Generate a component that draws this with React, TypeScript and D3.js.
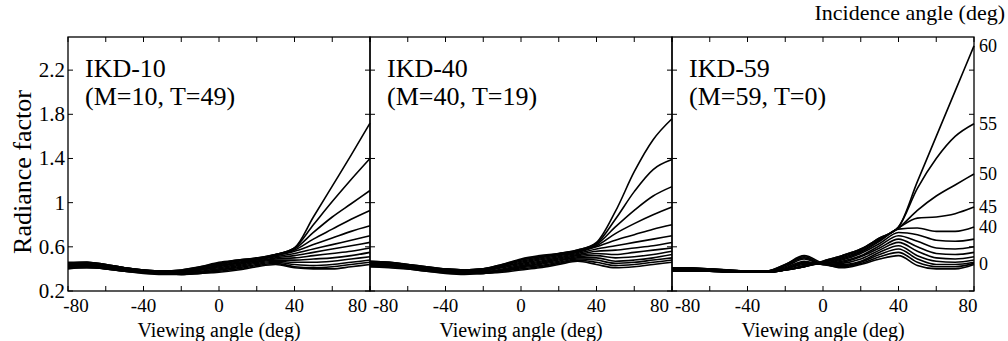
import React from "react";
import * as d3 from "d3";

// viewing angles (deg) sampled along each curve
const viewingAngles = [-80, -70, -60, -50, -40, -30, -20, -10, 0, 10, 20, 30, 40, 50, 60, 70, 80];
// incidence angles (deg), one curve each, listed from 60 down to 0
const incidenceAngles = [60, 55, 50, 45, 40, 35, 30, 25, 20, 15, 10, 5, 0];

const yTicks = [0.2, 0.6, 1, 1.4, 1.8, 2.2];
const xTicks = [-80, -60, -40, -20, 0, 20, 40, 60, 80];
const xTickLabels = [-80, -40, 0, 40, 80];
const labelledIncidence = [60, 55, 50, 45, 40, 0];

const ikd10 = [
  [0.45, 0.46, 0.44, 0.41, 0.39, 0.38, 0.39, 0.42, 0.46, 0.48, 0.50, 0.53, 0.59, 0.87, 1.15, 1.43, 1.72],
  [0.45, 0.46, 0.44, 0.41, 0.39, 0.38, 0.39, 0.42, 0.45, 0.48, 0.50, 0.53, 0.59, 0.80, 1.01, 1.21, 1.40],
  [0.46, 0.46, 0.44, 0.41, 0.39, 0.38, 0.38, 0.41, 0.45, 0.47, 0.49, 0.53, 0.58, 0.73, 0.87, 0.99, 1.11],
  [0.45, 0.45, 0.43, 0.41, 0.39, 0.38, 0.38, 0.41, 0.44, 0.47, 0.49, 0.52, 0.57, 0.67, 0.76, 0.85, 0.93],
  [0.44, 0.45, 0.43, 0.40, 0.38, 0.37, 0.38, 0.40, 0.43, 0.46, 0.48, 0.52, 0.56, 0.62, 0.68, 0.74, 0.79],
  [0.44, 0.44, 0.42, 0.40, 0.38, 0.37, 0.37, 0.40, 0.43, 0.45, 0.48, 0.51, 0.54, 0.58, 0.62, 0.66, 0.70],
  [0.43, 0.44, 0.42, 0.40, 0.38, 0.37, 0.37, 0.39, 0.42, 0.45, 0.47, 0.50, 0.52, 0.55, 0.58, 0.61, 0.64],
  [0.43, 0.43, 0.41, 0.39, 0.38, 0.37, 0.37, 0.39, 0.41, 0.44, 0.47, 0.49, 0.50, 0.52, 0.54, 0.56, 0.59],
  [0.42, 0.43, 0.41, 0.39, 0.37, 0.36, 0.36, 0.38, 0.40, 0.43, 0.46, 0.48, 0.48, 0.49, 0.50, 0.52, 0.55],
  [0.42, 0.42, 0.41, 0.39, 0.37, 0.36, 0.36, 0.37, 0.39, 0.42, 0.45, 0.47, 0.46, 0.46, 0.47, 0.49, 0.51],
  [0.41, 0.42, 0.40, 0.38, 0.37, 0.36, 0.35, 0.37, 0.39, 0.41, 0.44, 0.46, 0.44, 0.43, 0.44, 0.46, 0.48],
  [0.41, 0.41, 0.40, 0.38, 0.37, 0.36, 0.35, 0.36, 0.38, 0.40, 0.43, 0.45, 0.42, 0.41, 0.42, 0.44, 0.46],
  [0.40, 0.41, 0.40, 0.38, 0.36, 0.35, 0.35, 0.36, 0.37, 0.39, 0.42, 0.44, 0.41, 0.40, 0.40, 0.42, 0.44],
];

const ikd40 = [
  [0.47, 0.46, 0.44, 0.42, 0.40, 0.39, 0.40, 0.44, 0.49, 0.52, 0.54, 0.57, 0.64, 0.92, 1.28, 1.57, 1.76],
  [0.47, 0.46, 0.44, 0.42, 0.40, 0.39, 0.40, 0.44, 0.48, 0.51, 0.54, 0.57, 0.63, 0.85, 1.10, 1.30, 1.39],
  [0.46, 0.46, 0.44, 0.41, 0.40, 0.39, 0.40, 0.43, 0.48, 0.51, 0.53, 0.56, 0.62, 0.78, 0.93, 1.06, 1.145],
  [0.46, 0.45, 0.43, 0.41, 0.39, 0.38, 0.39, 0.43, 0.47, 0.50, 0.53, 0.56, 0.61, 0.72, 0.81, 0.89, 0.96],
  [0.46, 0.45, 0.43, 0.41, 0.39, 0.38, 0.39, 0.42, 0.46, 0.49, 0.52, 0.55, 0.60, 0.66, 0.71, 0.76, 0.80],
  [0.45, 0.45, 0.43, 0.40, 0.39, 0.38, 0.38, 0.42, 0.45, 0.48, 0.51, 0.54, 0.58, 0.61, 0.64, 0.67, 0.70],
  [0.45, 0.44, 0.42, 0.40, 0.38, 0.37, 0.38, 0.41, 0.44, 0.47, 0.50, 0.53, 0.56, 0.57, 0.59, 0.61, 0.64],
  [0.44, 0.44, 0.42, 0.40, 0.38, 0.37, 0.37, 0.40, 0.43, 0.46, 0.49, 0.52, 0.54, 0.53, 0.55, 0.57, 0.59],
  [0.44, 0.43, 0.42, 0.39, 0.38, 0.37, 0.37, 0.39, 0.42, 0.45, 0.48, 0.51, 0.52, 0.50, 0.51, 0.53, 0.56],
  [0.43, 0.43, 0.41, 0.39, 0.37, 0.36, 0.37, 0.39, 0.42, 0.44, 0.47, 0.50, 0.50, 0.47, 0.48, 0.50, 0.53],
  [0.43, 0.42, 0.41, 0.39, 0.37, 0.36, 0.36, 0.38, 0.41, 0.43, 0.46, 0.49, 0.48, 0.45, 0.46, 0.48, 0.50],
  [0.42, 0.42, 0.40, 0.38, 0.37, 0.36, 0.36, 0.38, 0.40, 0.42, 0.45, 0.48, 0.46, 0.43, 0.44, 0.46, 0.48],
  [0.42, 0.41, 0.40, 0.38, 0.36, 0.35, 0.36, 0.37, 0.39, 0.41, 0.44, 0.47, 0.44, 0.41, 0.42, 0.44, 0.46],
];

const ikd59 = [
  [0.38, 0.38, 0.38, 0.37, 0.37, 0.37, 0.39, 0.42, 0.47, 0.52, 0.58, 0.68, 0.78, 1.19, 1.60, 2.01, 2.42],
  [0.38, 0.38, 0.38, 0.37, 0.37, 0.37, 0.39, 0.42, 0.47, 0.52, 0.58, 0.68, 0.78, 1.13, 1.40, 1.60, 1.715],
  [0.39, 0.38, 0.38, 0.37, 0.37, 0.37, 0.39, 0.42, 0.46, 0.51, 0.57, 0.67, 0.77, 0.93, 1.06, 1.16, 1.26],
  [0.39, 0.39, 0.38, 0.38, 0.37, 0.37, 0.39, 0.42, 0.46, 0.50, 0.56, 0.66, 0.77, 0.86, 0.87, 0.90, 0.96],
  [0.39, 0.39, 0.38, 0.38, 0.37, 0.37, 0.39, 0.43, 0.45, 0.49, 0.55, 0.65, 0.76, 0.77, 0.74, 0.74, 0.78],
  [0.40, 0.39, 0.39, 0.38, 0.38, 0.37, 0.40, 0.44, 0.45, 0.48, 0.54, 0.63, 0.73, 0.71, 0.66, 0.65, 0.67],
  [0.40, 0.39, 0.39, 0.38, 0.38, 0.37, 0.40, 0.45, 0.45, 0.47, 0.52, 0.61, 0.70, 0.65, 0.59, 0.58, 0.60],
  [0.40, 0.40, 0.39, 0.38, 0.38, 0.37, 0.40, 0.46, 0.45, 0.46, 0.51, 0.59, 0.67, 0.60, 0.54, 0.53, 0.55],
  [0.40, 0.40, 0.39, 0.38, 0.38, 0.38, 0.41, 0.47, 0.44, 0.45, 0.49, 0.57, 0.64, 0.56, 0.50, 0.49, 0.51],
  [0.41, 0.40, 0.39, 0.39, 0.38, 0.38, 0.42, 0.49, 0.44, 0.44, 0.47, 0.55, 0.61, 0.52, 0.47, 0.46, 0.48],
  [0.41, 0.40, 0.40, 0.39, 0.38, 0.38, 0.43, 0.50, 0.44, 0.43, 0.46, 0.53, 0.58, 0.49, 0.44, 0.44, 0.46],
  [0.41, 0.41, 0.40, 0.39, 0.38, 0.38, 0.44, 0.51, 0.44, 0.42, 0.45, 0.51, 0.55, 0.46, 0.42, 0.42, 0.45],
  [0.41, 0.41, 0.40, 0.39, 0.38, 0.38, 0.44, 0.52, 0.45, 0.41, 0.44, 0.49, 0.52, 0.43, 0.40, 0.40, 0.44],
];

const panels = [
  { name: "IKD-10", params: "(M=10, T=49)", curves: ikd10 },
  { name: "IKD-40", params: "(M=40, T=19)", curves: ikd40 },
  { name: "IKD-59", params: "(M=59, T=0)", curves: ikd59 },
];

const W = 1008;
const H = 341;
const left = 68;
const panelW = 302;
const top = 37;
const bottom = 291;
const font = "'Liberation Serif', 'DejaVu Serif', serif";

const y = d3.scaleLinear().domain([0.2, 2.5]).range([bottom, top]);

function Panel({ p, i }) {
  const x0 = left + i * panelW;
  const x = d3.scaleLinear().domain([-80, 80]).range([x0, x0 + panelW]);
  const line = d3
    .line<number>()
    .x((_, j) => x(viewingAngles[j]))
    .y((d) => y(d))
    .curve(d3.curveMonotoneX);
  const tick = 5;

  return (
    <g>
      {p.curves.map((c, k) => (
        <path key={k} d={line(c) || ""} fill="none" stroke="#000" strokeWidth={1.6} />
      ))}
      <rect x={x0} y={top} width={panelW} height={bottom - top} fill="none" stroke="#000" strokeWidth={1.3} />
      {xTicks.map((t) => (
        <g key={t} stroke="#000" strokeWidth={1}>
          <line x1={x(t)} x2={x(t)} y1={bottom} y2={bottom - tick} />
          <line x1={x(t)} x2={x(t)} y1={top} y2={top + tick} />
        </g>
      ))}
      {yTicks.map((t) => (
        <g key={t} stroke="#000" strokeWidth={1}>
          <line x1={x0} x2={x0 + tick} y1={y(t)} y2={y(t)} />
          <line x1={x0 + panelW} x2={x0 + panelW - tick} y1={y(t)} y2={y(t)} />
        </g>
      ))}
      {xTickLabels.map((t) => {
        let cx = x(t);
        let anchor = "middle";
        if (t === -80) {
          cx = i === 0 ? x(t) + 8 : x(t) + 3;
          anchor = i === 0 ? "middle" : "start";
        }
        if (t === 80) {
          cx = i === 2 ? x(t) - 6 : x(t) - 3;
          anchor = i === 2 ? "middle" : "end";
        }
        return (
          <text key={t} x={cx} y={bottom + 21} textAnchor={anchor} fontSize={19} fontFamily={font}>
            {t}
          </text>
        );
      })}
      <text x={x(0)} y={bottom + 46} textAnchor="middle" fontSize={20} fontFamily={font}>
        Viewing angle (deg)
      </text>
      <text x={x0 + 17} y={77} fontSize={26} fontFamily={font}>
        {p.name}
      </text>
      <text x={x0 + 17} y={105} fontSize={26} fontFamily={font}>
        {p.params}
      </text>
      {i === 2 &&
        labelledIncidence.map((a) => {
          const c = p.curves[incidenceAngles.indexOf(a)];
          return (
            <text key={a} x={x0 + panelW + 5} y={y(c[c.length - 1]) + 6} fontSize={18} fontFamily={font}>
              {a}
            </text>
          );
        })}
    </g>
  );
}

export default function App() {
  return (
    <svg width={W} height={H} style={{ position: "absolute", left: 0, top: 0, background: "#fff" }}>
      <rect width={W} height={H} fill="#fff" />
      {panels.map((p, i) => (
        <Panel key={p.name} p={p} i={i} />
      ))}
      {yTicks.map((t) => (
        <text key={t} x={left - 3} y={y(t) + 7} textAnchor="end" fontSize={21} fontFamily={font}>
          {t}
        </text>
      ))}
      <text
        transform={`translate(31,${(top + bottom) / 2 + 8}) rotate(-90)`}
        textAnchor="middle"
        fontSize={26}
        fontFamily={font}
      >
        Radiance factor
      </text>
      <text x={1005} y={20} textAnchor="end" fontSize={22} fontFamily={font}>
        Incidence angle (deg)
      </text>
    </svg>
  );
}
